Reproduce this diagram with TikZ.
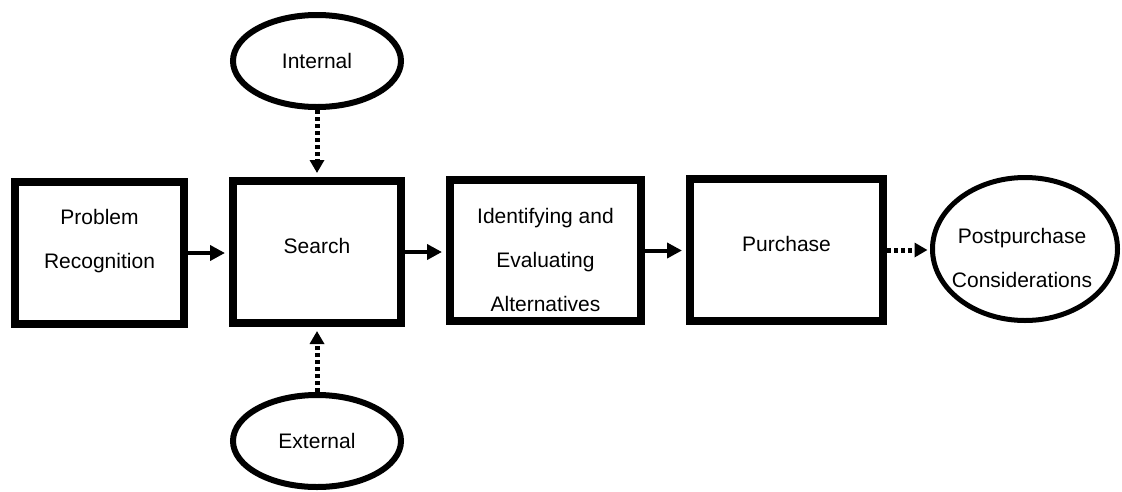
\documentclass[tikz,border=0pt]{standalone}
\usepackage{fontspec}
\setmainfont{Liberation Sans}
\usetikzlibrary{shapes.geometric,arrows.meta}
\begin{document}
\begin{tikzpicture}[x=1pt,y=-1pt,
  stage/.style={draw, rectangle, line width=8pt, inner sep=0pt},
  oval/.style={draw, ellipse, inner sep=0pt},
  lbl/.style={align=center, font=\fontsize{21}{44}\selectfont, inner sep=0pt},
  flow/.style={line width=4pt, shorten >=4pt, -{Triangle[length=15pt,width=15pt]}},
  hint/.style={line width=5pt, dash pattern=on 4pt off 3pt, -{Triangle[length=13pt,width=14pt]}}
]
\useasboundingbox (0,0) rectangle (1122,491);
\fill[white] (0,0) rectangle (1122,491);

% main stages
\node[stage, minimum width=169pt, minimum height=142pt] (prob) at (99.5,253) {};
\node[stage, minimum width=168pt, minimum height=142pt] (search) at (317,252) {};
\node[stage, minimum width=191pt, minimum height=141pt] (ident) at (545.5,250.5) {};
\node[stage, minimum width=193pt, minimum height=142pt] (purch) at (786.5,250) {};
\node[oval, line width=5pt, minimum width=185pt, minimum height=143pt] (post) at (1025,249) {};

% information sources
\node[oval, line width=6pt, minimum width=168pt, minimum height=92pt] (intern) at (317,61) {};
\node[oval, line width=6pt, minimum width=168pt, minimum height=92pt] (extern) at (317,441) {};

% labels
\node[lbl] (probT) at (99.5,241) {Problem\\Recognition};
\node[lbl] (searchT) at (317,246) {Search};
\node[lbl] (identT) at (545.5,260) {Identifying and\\Evaluating\\Alternatives};
\node[lbl] (purchT) at (786.5,244) {Purchase};
\node[lbl] (postT) at (1022,258) {Postpurchase\\Considerations};
\node[lbl] (internT) at (317,61) {Internal};
\node[lbl] (externT) at (317,441) {External};

% flow between stages
\draw[flow] (prob.east) -- (prob.east -| search.west);
\draw[flow] (search.east) -- (search.east -| ident.west);
\draw[flow] (ident.east) -- (ident.east -| purch.west);
\draw[hint, shorten >=2.5pt] (purch.east) -- (purch.east -| post.west);

% search inputs
\draw[hint, shorten >=4pt] (intern.south) -- (search.north);
\draw[hint, shorten >=4pt] (extern.north) -- (search.south);
\end{tikzpicture}
\end{document}
